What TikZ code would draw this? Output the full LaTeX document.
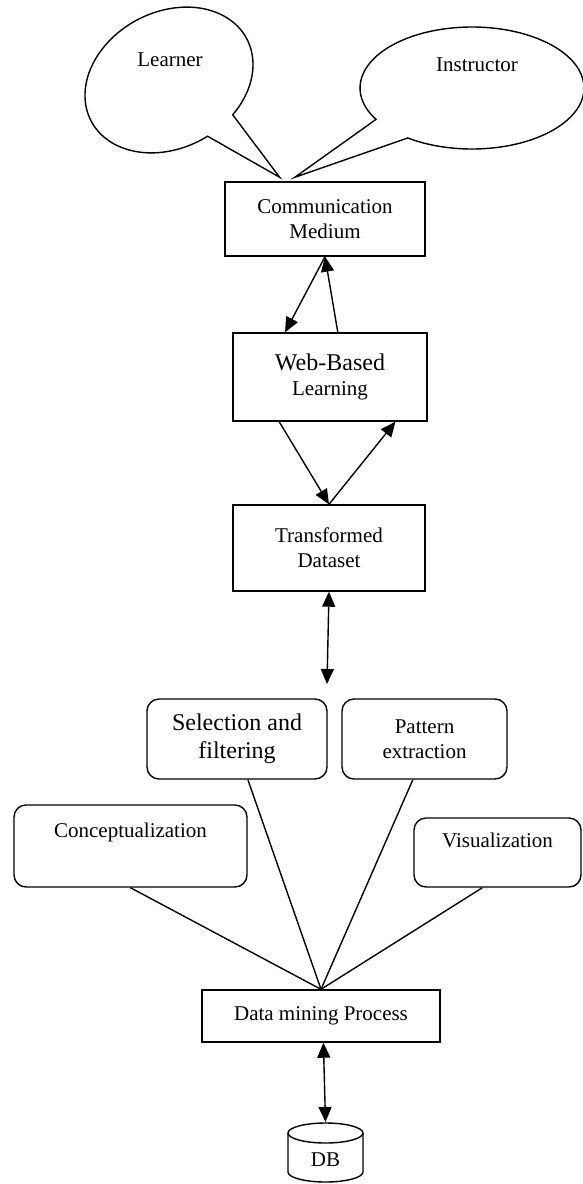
\documentclass[tikz,border=0pt]{standalone}
\usepackage{fontspec}
\setmainfont{Liberation Serif}
\usetikzlibrary{arrows.meta,calc}
\begin{document}
\begin{tikzpicture}[x=1pt,y=-1pt,
  every node/.style={font=\fontsize{21pt}{25pt}\selectfont, align=center, inner sep=0pt},
  big/.style={font=\fontsize{24pt}{28pt}\selectfont},
  sqbox/.style={draw, line width=1.4pt},
  rbox/.style={draw, line width=1.4pt, rounded corners=12pt},
  shapeline/.style={line width=1.4pt, line join=miter},
  conn/.style={line width=1.4pt},
  arr/.style={conn, -{Triangle[length=15pt,width=13pt]}},
  darr/.style={conn, {Triangle[length=15pt,width=13pt]}-{Triangle[length=15pt,width=13pt]}}]
\useasboundingbox (0,0) rectangle (583,1184);

% boxes
\node[sqbox, minimum width=200pt, minimum height=74pt] (cm) at (325,219) {Communication\\Medium};
\node[sqbox, minimum width=194pt, minimum height=88pt] (wb) at (330,377) {{\fontsize{24pt}{28pt}\selectfont Web-Based}\\Learning};
\node[sqbox, minimum width=192pt, minimum height=86pt] (td) at (329,548) {Transformed\\Dataset};
\node[rbox, big, minimum width=180pt, minimum height=80pt] (sel) at (237,739) {Selection and\\filtering};
\node[rbox, minimum width=165pt, minimum height=80pt] (pat) at (424.5,739) {Pattern\\extraction};
\node[rbox, minimum width=233pt, minimum height=82pt] (con) at (130.5,846) {Conceptualization\\\strut};
\node[rbox, minimum width=167pt, minimum height=69pt] (vis) at (497.5,852.5) {Visualization\\\mbox{}};
\node[sqbox, minimum width=238pt, minimum height=52pt] (dm) at (321,1016) {Data mining Process};

% callouts
\node (lt) at (170,60) {Learner};
\node (it) at (477,65) {Instructor};
\coordinate (la) at ($(cm.north west)!0.275!(cm.north east)$);
\coordinate (ia) at ($(cm.north west)!0.35!(cm.north east)$);
\coordinate (ltip) at ($(la)+(0,-4)$);
\coordinate (itip) at ($(ia)+(0,-4)$);
\begin{scope}[shift={(169,80)}, rotate=28]
  \draw[shapeline] (-63:88pt and 68pt) arc[start angle=-63, end angle=275, x radius=88pt, y radius=68pt] -- (ltip) -- cycle;
\end{scope}
\begin{scope}[shift={(472,88)}]
  \draw[shapeline] (235:112pt and 61pt) arc[start angle=235, end angle=571, x radius=112pt, y radius=61pt] -- (itip) -- cycle;
\end{scope}

% connectors
\coordinate (c1) at ($(wb.north west)!0.27!(wb.north east)$);
\coordinate (c2) at ($(wb.north west)!0.54!(wb.north east)$);
\coordinate (c3) at ($(wb.south west)!0.24!(wb.south east)$);
\coordinate (c4) at ($(wb.south west)!0.835!(wb.south east)$);
\draw[arr] (cm.south) -- (c1);
\draw[arr] (c2) -- (cm.south);
\draw[arr] (c3) -- (td.north);
\draw[arr] (td.north) -- (c4);
\coordinate (tdend) at (327,684);
\draw[darr] (td.south) -- (tdend);

\coordinate (s1) at ($(sel.south west)!0.56!(sel.south east)$);
\coordinate (p1) at ($(pat.south west)!0.43!(pat.south east)$);
\coordinate (v1) at ($(vis.south west)!0.41!(vis.south east)$);
\draw[conn] (con.south) -- (dm.north);
\draw[conn] (s1) -- (dm.north);
\draw[conn] (p1) -- (dm.north);
\draw[conn] (v1) -- (dm.north);

% database
\node (db) at (325.5,1160) {DB};
\draw[shapeline] (325.5,1133) ellipse [x radius=37.5pt, y radius=10pt];
\draw[shapeline] (288,1133) -- (288,1172) arc[start angle=180, end angle=360, x radius=37.5pt, y radius=10pt] -- (363,1133);
\coordinate (dbtop) at (325.5,1122);
\coordinate (d1) at ($(dm.south west)!0.51!(dm.south east)$);
\draw[darr] (d1) -- (dbtop);
\end{tikzpicture}
\end{document}
